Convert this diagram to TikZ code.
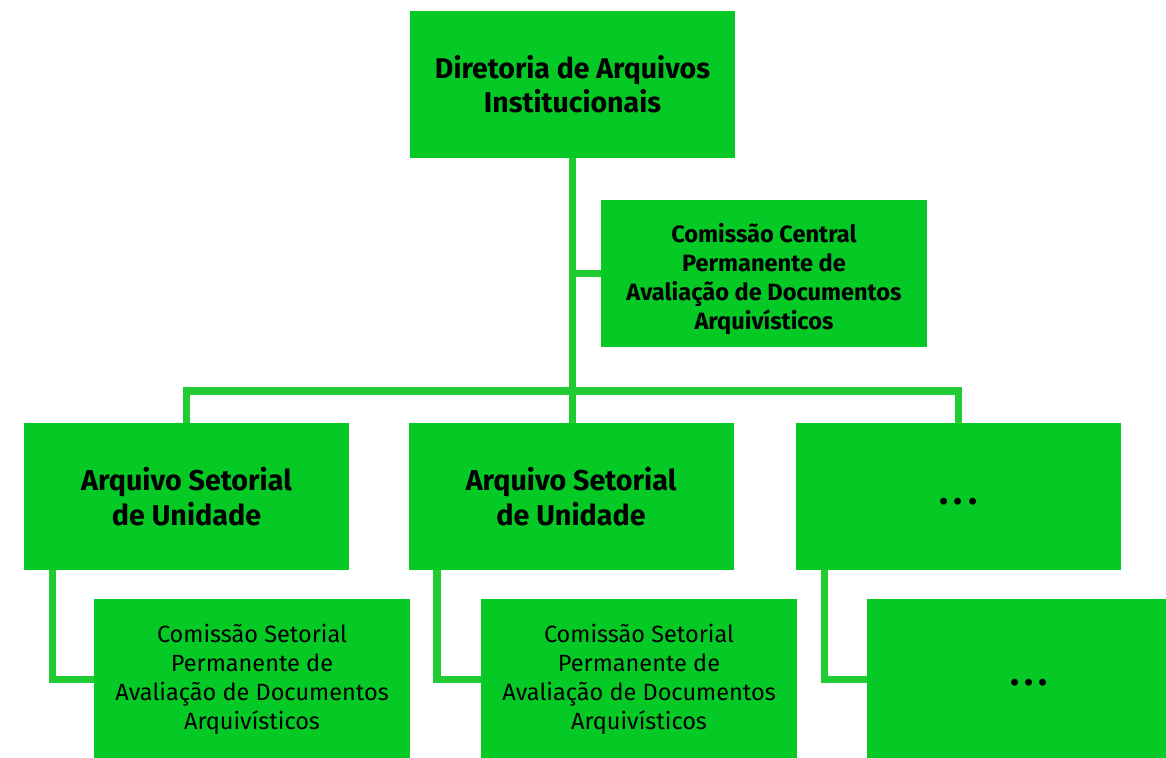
\documentclass[tikz,border=0pt]{standalone}
\usepackage{fontspec}
\setmainfont{Fira Sans}
\usetikzlibrary{calc}
\definecolor{boxgreen}{RGB}{5,201,37}
\definecolor{linegreen}{RGB}{32,204,50}
\newcommand{\mydots}[1]{\raisebox{#1}[0pt][0pt]{\fontsize{38}{38}\selectfont\bfseries .\kern5pt.\kern5pt.}}
\begin{document}
\begin{tikzpicture}[x=1pt,y=-1pt,
  box/.style={fill=boxgreen, inner sep=0pt, align=center, text=black},
  bigbox/.style={box, minimum width=325pt, minimum height=147pt,
    font=\fontsize{28.7}{35}\selectfont\bfseries},
  ccbox/.style={box, minimum width=326pt, minimum height=147pt,
    font=\fontsize{23.6}{29}\selectfont\bfseries},
  subbox/.style={box, minimum width=316pt, minimum height=161pt,
    font=\fontsize{23.5}{29}\selectfont},
  conn/.style={draw=linegreen, line width=7.5pt, line join=miter},
]
\useasboundingbox (0,0) rectangle (1166,757);
\clip (0,0) rectangle (1166,757);

\node[bigbox, font=\fontsize{28.5}{34}\selectfont\bfseries] (top) at (572.5,84.5) {Diretoria de Arquivos\\Institucionais};
\node[ccbox] (cc) at (764,273.5) {\rule{0pt}{30pt}Comissão Central\\Permanente de\\Avaliação de Documentos\\Arquivísticos};
\node[bigbox] (r1) at (186.5,496.5) {Arquivo Setorial\\de Unidade};
\node[bigbox] (r2) at (571,496.5) {Arquivo Setorial\\de Unidade};
\node[bigbox] (r3) at (958.5,496.5) {\mydots{-8pt}};
\node[subbox] (b1) at (252,679.5) {Comissão Setorial\\Permanente de\\Avaliação de Documentos\\Arquivísticos};
\node[subbox] (b2) at (639,679.5) {Comissão Setorial\\Permanente de\\Avaliação de Documentos\\Arquivísticos};
\node[subbox, minimum width=324pt] (b3) at (1029,679.5) {\mydots{-6pt}};

\coordinate (bus) at (572,391);
\draw[conn] (top.south) -- (top.south |- r2.north);
\draw[conn] (top.south |- cc.west) -- (cc.west);
\draw[conn] (r1.north) |- (bus) -| (r3.north);
\draw[conn] ($(r1.south west)+(28.5,0)$) |- (b1.west);
\draw[conn] ($(r2.south west)+(28.5,0)$) |- (b2.west);
\draw[conn] ($(r3.south west)+(28.5,0)$) |- (b3.west);
\end{tikzpicture}
\end{document}
